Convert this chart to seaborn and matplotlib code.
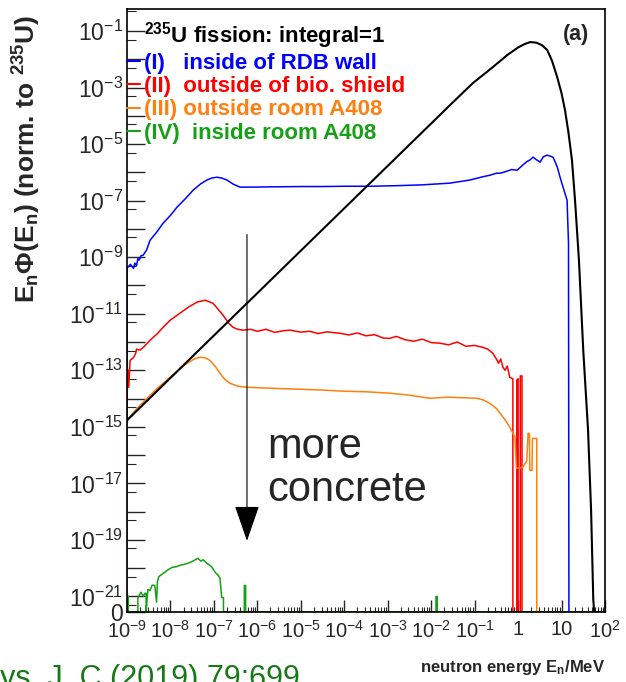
import numpy as np
import pandas as pd
import seaborn as sns
import matplotlib
matplotlib.use("Agg")
import matplotlib.pyplot as plt
from matplotlib.ticker import FixedLocator, FuncFormatter, LogLocator, NullFormatter
from matplotlib.lines import Line2D

# ---------------- data: log10(E / MeV) and log10(E*Phi(E)); None = empty bin ----------------
fission_logE = [-9.0, -8.0, -7.0, -6.0, -5.0, -4.0, -3.0, -2.0, -1.8, -1.5, -1.04, -0.6, -0.25, 0.0,
                0.15, 0.28, 0.42, 0.55, 0.67, 0.78, 0.90, 1.0, 1.08, 1.16, 1.24, 1.31, 1.40, 1.50,
                1.61, 1.68, 1.73, 1.75, 2.0]
fission_logF = [-14.77, -13.27, -11.77, -10.27, -8.77, -7.27, -5.77, -4.27, -3.97, -3.52, -2.84, -2.30,
                -1.85, -1.58, -1.46, -1.39, -1.41, -1.50, -1.67, -2.05, -2.63, -3.20, -3.80, -4.60,
                -5.57, -6.98, -9.10, -12.30, -15.12, -17.96, -21.10, None, None]

rdb_logE = [-9.0, -9.0, -8.92, -8.85, -8.82, -8.78, -8.75, -8.72, -8.68, -8.63, -8.55, -8.47, -8.32,
            -8.17, -8.0, -7.85, -7.65, -7.48, -7.30, -7.16, -7.05, -6.93, -6.82, -6.70, -6.55, -6.40,
            -6.10, -5.60, -5.00, -4.50, -4.00, -3.40, -2.80, -2.20, -1.57, -1.11, -0.80, -0.65, -0.50,
            -0.42, -0.30, -0.15, -0.02, 0.10, 0.20, 0.28, 0.344, 0.42, 0.47, 0.505, 0.58, 0.666, 0.75,
            0.804, 0.90, 0.966, 1.05, 1.127, 1.16, 1.17, 2.0]
rdb_logF = [None, -9.39, -9.25, -9.40, -9.21, -9.30, -9.05, -9.10, -8.95, -8.93, -8.75, -8.40, -8.12,
            -7.80, -7.52, -7.23, -6.92, -6.63, -6.40, -6.27, -6.20, -6.17, -6.20, -6.27, -6.42, -6.52,
            -6.52, -6.51, -6.50, -6.50, -6.49, -6.49, -6.47, -6.44, -6.38, -6.27, -6.15, -6.10, -6.03,
            -6.03, -5.98, -5.90, -5.92, -5.75, -5.62, -5.55, -5.46, -5.55, -5.60, -5.64, -5.45, -5.39,
            -5.43, -5.46, -5.80, -6.17, -6.60, -6.98, -8.50, None, None]

bio_logE = [-9.0, -9.0, -8.98, -8.96, -8.93, -8.85, -8.80, -8.78, -8.70, -8.60, -8.47, -8.30, -8.17,
            -8.00, -7.78, -7.60, -7.39, -7.20, -7.02, -6.90, -6.79, -6.65, -6.56, -6.45, -6.33, -6.15,
            -6.00, -5.80, -5.60, -5.40, -5.25, -5.00, -4.80, -4.60, -4.40, -4.10, -3.90, -3.70, -3.50,
            -3.30, -3.10, -2.95, -2.80, -2.60, -2.40, -2.20, -2.00, -1.80, -1.60, -1.40, -1.20, -1.00,
            -0.81, -0.70, -0.58, -0.50, -0.45, -0.40, -0.35, -0.30, -0.25, -0.19, -0.12, -0.12, -0.03,
            -0.03, 0.00, 0.00, 0.05, 0.05, 0.09, 0.09, 2.0]
bio_logF = [None, -13.9, -13.0, -13.6, -12.65, -12.55, -12.40, -12.25, -12.29, -12.15, -11.94, -11.70,
            -11.48, -11.22, -10.98, -10.78, -10.59, -10.52, -10.63, -10.85, -11.05, -11.35, -11.48,
            -11.55, -11.58, -11.55, -11.62, -11.55, -11.66, -11.60, -11.58, -11.65, -11.62, -11.70,
            -11.64, -11.69, -11.75, -11.68, -11.78, -11.74, -11.86, -11.87, -11.80, -11.92, -11.97,
            -11.90, -12.02, -12.04, -12.10, -12.00, -12.15, -12.12, -12.19, -12.25, -12.40, -12.60,
            -12.75, -12.60, -12.89, -13.00, -12.85, -13.25, -13.30, None, None, -13.35, -13.30, None,
            None, -13.20, -13.20, None, None]

outroom_logE = [-9.0, -9.0, -8.80, -8.54, -8.30, -8.01, -7.80, -7.62, -7.45, -7.32, -7.20, -7.09, -6.96,
                -6.86, -6.75, -6.63, -6.45, -6.24, -5.60, -5.02, -4.50, -4.00, -3.50, -2.95, -2.50,
                -2.03, -1.60, -1.30, -0.945, -0.80, -0.65, -0.50, -0.415, -0.30, -0.19, -0.07, -0.04,
                0.11, 0.20, 0.23, 0.26, 0.27, 0.32, 0.33, 0.43, 0.43, 2.0]
outroom_logF = [None, -14.77, -14.40, -13.99, -13.63, -13.25, -12.98, -12.75, -12.60, -12.54, -12.56,
                -12.65, -12.88, -13.11, -13.32, -13.46, -13.56, -13.60, -13.64, -13.67, -13.70, -13.74,
                -13.76, -13.81, -13.88, -13.99, -13.95, -13.97, -13.99, -14.05, -14.17, -14.35, -14.52,
                -14.75, -15.02, -15.37, -16.47, -16.43, -16.20, -15.23, -15.23, -16.54, -16.54, -15.41,
                -15.41, None, None]

inroom_logE = [-9.0, -9.0, -8.97, -8.97, -8.75, -8.75, -8.68, -8.62, -8.59, -8.56, -8.56, -8.52, -8.47,
               -8.42, -8.36, -8.32, -8.30, -8.27, -8.17, -8.05, -7.96, -7.87, -7.78, -7.65, -7.55, -7.45,
               -7.37, -7.30, -7.25, -7.16, -7.05, -6.97, -6.90, -6.86, -6.82, -6.78, -6.78, -6.30, -6.30,
               -6.27, -6.27, -1.89, -1.89, -1.86, -1.86, 2.0]
inroom_logF = [None, -21.0, -21.0, None, None, -21.05, -20.85, -21.0, -20.89, -20.89, None, -20.75,
               -20.79, -20.60, -20.61, -21.20, -20.50, -20.30, -20.19, -20.05, -19.97, -19.95, -19.90,
               -19.85, -19.80, -19.72, -19.65, -19.75, -19.70, -19.83, -19.95, -20.15, -20.25, -20.36,
               -21.04, -21.04, None, None, -20.61, -20.61, None, None, -21.0, -21.0, None, None]

series_names = ["(I)   inside of RDB wall", "(II)  outside of bio. shield",
                "(III) outside room A408", "(IV)  inside room A408"]
series_colors = ["#0000ff", "#ff0000", "#ff7f0f", "#16a016"]
fission_label = r"$^{\mathbf{235}}$U fission: integral=1"

x_tick_exp = list(range(-9, 3))
y_tick_exp = list(range(-21, 0))

YMIN = 10 ** -21.55
YMAX = 10 ** -0.22

# ---------------- style ----------------
sns.set_style("white")
plt.rcParams["font.family"] = ["Liberation Sans", "DejaVu Sans"]
plt.rcParams["mathtext.fontset"] = "custom"
plt.rcParams["mathtext.rm"] = "Liberation Sans"
plt.rcParams["mathtext.it"] = "Liberation Sans:italic"
plt.rcParams["mathtext.bf"] = "Liberation Sans:bold"
plt.rcParams["mathtext.sf"] = "Liberation Sans"


def build(name, logE, logF):
    E = [10.0 ** v for v in logE]
    F = [YMIN if f is None else 10.0 ** f for f in logF]  # empty bins drawn at the axis minimum
    return pd.DataFrame({"E": E, "flux": F, "series": name, "step": range(len(E))})


frames = [build(series_names[0], rdb_logE, rdb_logF),
          build(series_names[1], bio_logE, bio_logF),
          build(series_names[2], outroom_logE, outroom_logF),
          build(series_names[3], inroom_logE, inroom_logF)]
df = pd.concat(frames, ignore_index=True)
df_fis = build(fission_label, fission_logE, fission_logF)

fig = plt.figure(figsize=(6.26, 6.82), dpi=100)
ax = fig.add_axes([127 / 626, 1 - 612 / 682, 478 / 626, 603 / 682])
ax.set_xscale("log")
ax.set_yscale("log")

sns.lineplot(data=df, x="E", y="flux", hue="series", palette=dict(zip(series_names, series_colors)),
             estimator=None, sort=False, units="series", lw=1.1, legend=False, ax=ax)
sns.lineplot(data=df_fis, x="E", y="flux", color="black", estimator=None, sort=False,
             lw=1.5, legend=False, ax=ax)

ax.set_xlim(10.0 ** -9, 10.0 ** 2)
ax.set_ylim(YMIN, YMAX)

# ---------------- axes / ticks ----------------
for s in ax.spines.values():
    s.set_linewidth(1.2)
    s.set_color("black")

ax.xaxis.set_major_locator(FixedLocator([10.0 ** e for e in x_tick_exp]))
ax.xaxis.set_minor_locator(LogLocator(base=10, subs=np.arange(2, 10), numticks=30))
ax.xaxis.set_minor_formatter(NullFormatter())


def xfmt(v, pos):
    e = int(round(np.log10(v)))
    if e == 0:
        return "1"
    if e == 1:
        return "10"
    return r"$10^{%d}$" % e


ax.xaxis.set_major_formatter(FuncFormatter(xfmt))

yt = [YMIN] + [10.0 ** e for e in y_tick_exp]
ax.yaxis.set_major_locator(FixedLocator(yt))
ax.yaxis.set_minor_locator(LogLocator(base=10, subs=(5,), numticks=40))
ax.yaxis.set_minor_formatter(NullFormatter())


def yfmt(v, pos):
    if v <= YMIN * 1.01:
        return "0"
    e = int(round(np.log10(v)))
    if e % 2 == 0:
        return ""
    return r"$10^{%d}$" % e


ax.yaxis.set_major_formatter(FuncFormatter(yfmt))

ax.tick_params(axis="x", which="major", direction="in", length=9, width=1.0, labelsize=14.5, pad=6,
               bottom=True, top=False)
ax.tick_params(axis="x", which="minor", direction="in", length=3.5, width=0.8, bottom=True, top=False)
ax.tick_params(axis="y", which="major", direction="in", length=13, width=1.0, labelsize=16.5, pad=3,
               left=True, right=False)
ax.tick_params(axis="y", which="minor", direction="in", length=6.5, width=0.8, left=True, right=False)

ax.set_xlabel(r"neutron energy E$_{\mathbf{n}}$/MeV", fontsize=12, fontweight="bold")
ax.xaxis.set_label_coords(1.0, -0.076)
ax.xaxis.label.set_ha("right")
ax.set_ylabel(r"E$_{\mathbf{n}}$$\mathbf{\Phi}$(E$_{\mathbf{n}}$) (norm. to $^{\mathbf{235}}$U)",
              fontsize=19, fontweight="bold")
ax.yaxis.set_label_coords(-0.175, 0.99)
ax.yaxis.label.set_va("bottom")
ax.yaxis.label.set_ha("right")

# ---------------- legend ----------------
handles = [Line2D([], [], color="none")] + [Line2D([], [], color=c, lw=1.5) for c in series_colors]
labels = [fission_label] + series_names
ax.legend(handles, labels, loc="upper left", bbox_to_anchor=(0.0, 0.982), frameon=False,
          handlelength=0.6, handletextpad=0.15, borderpad=0, borderaxespad=0, labelspacing=0.1,
          prop=dict(family="Liberation Sans", weight="bold", size=16),
          labelcolor=["black"] + series_colors)

ax.text(0.939, 0.957, "(a)", transform=ax.transAxes, ha="center", va="center", fontsize=15.5,
        fontweight="bold")

# ---------------- annotation ----------------
ax.annotate("", xy=(0.251, 0.118), xytext=(0.251, 0.626), xycoords="axes fraction",
            textcoords="axes fraction",
            arrowprops=dict(arrowstyle="-|>,head_width=0.33,head_length=0.95", lw=0.8, color="black",
                            mutation_scale=24, shrinkA=0, shrinkB=0))
ax.text(0.293, 0.238, "more\nconcrete", transform=ax.transAxes, ha="left", va="center", fontsize=30,
        linespacing=1.12)

fig.text(300 / 626, -0.008, "Eur. Phys. J. C (2019) 79:699", ha="right", va="baseline", fontsize=22,
         color="#157a15")

fig.savefig("out.png", dpi=100)
